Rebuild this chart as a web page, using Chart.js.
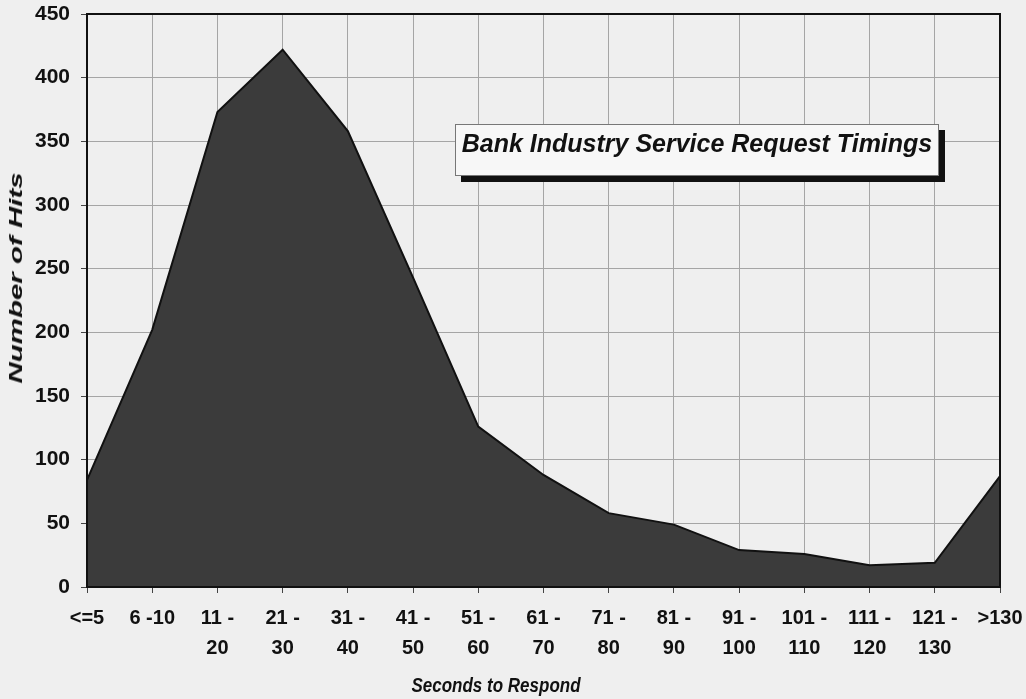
<!DOCTYPE html>
<html>
<head>
<meta charset="utf-8">
<script src="https://cdn.jsdelivr.net/npm/chart.js@4"></script>
<style>
    html, body { margin: 0; padding: 0; background: #efefef; }
    #wrap { position: relative; width: 1026px; height: 699px; }
    #titleBox {
        position: absolute; left: 455px; top: 124px; width: 482px; height: 50px;
        background: #f7f7f7; border: 1px solid #777;
        box-shadow: 6px 6px 0 #111;
        font: italic bold 25px "Liberation Sans", Arial, sans-serif;
        color: #111; line-height: 36px; text-align: center;
        white-space: nowrap;
    }
    .axisTitle {
        position: absolute; white-space: nowrap; color: #111;
        font: italic bold 17px "Liberation Sans", Arial, sans-serif;
    }
    #yTitle { left: 16px; top: 278px; font-size: 19px; transform: translate(-50%, -50%) rotate(-90deg) scaleX(1.55); }
    #xTitle { left: 496px; top: 686px; transform: translate(-50%, -50%) scaleY(1.2); }
</style>
</head>
<body>
<div id="wrap">
    <canvas id="hitsChart" width="1026" height="699"></canvas>
    <div id="titleBox">Bank Industry Service Request Timings</div>
    <div id="yTitle" class="axisTitle">Number of Hits</div>
    <div id="xTitle" class="axisTitle">Seconds to Respond</div>
</div>
<script>
const categories = [['<=5'], ['6 -10'], ['11 -', '20'], ['21 -', '30'], ['31 -', '40'], ['41 -', '50'],
    ['51 -', '60'], ['61 -', '70'], ['71 -', '80'], ['81 -', '90'], ['91 -', '100'], ['101 -', '110'],
    ['111 -', '120'], ['121 -', '130'], ['>130']]
const hits = [84, 202, 373, 422, 358, 243, 126, 88, 58, 49, 29, 26, 17, 19, 87]
const yTicks = [0, 50, 100, 150, 200, 250, 300, 350, 400, 450]

const fontFamily = '"Liberation Sans", Arial, sans-serif'
const hitsChart = document.getElementById('hitsChart')

new Chart(hitsChart, {
    type: 'line',
    data: {
        labels: categories,
        datasets: [{
            label: 'Number of Hits',
            data: hits,
            fill: 'origin',
            backgroundColor: '#3b3b3b',
            borderColor: '#111',
            borderWidth: 2,
            pointRadius: 0,
            tension: 0
        }]
    },
    options: {
        responsive: false,
        animation: false,
        layout: { padding: { top: 14, right: 26, left: 0, bottom: 0 } },
        plugins: { legend: { display: false }, tooltip: { enabled: false } },
        scales: {
            x: {
                offset: false,
                border: { color: '#111', width: 2 },
                grid: { color: '#a5a5a5', lineWidth: 1, tickLength: 6, tickColor: '#444' },
                ticks: {
                    color: '#111', maxRotation: 0, autoSkip: false, padding: 10,
                    font: { family: fontFamily, size: 20, weight: 'bold', lineHeight: 1.5 }
                },
                afterFit: (scale) => {
                    scale.height = 112
                    scale.paddingLeft = 0
                    scale.paddingRight = 0
                }
            },
            y: {
                min: 0,
                max: 450,
                border: { color: '#111', width: 2 },
                grid: { color: '#a5a5a5', lineWidth: 1, tickLength: 6, tickColor: '#444' },
                afterBuildTicks: (scale) => { scale.ticks = yTicks.map(v => ({ value: v })) },
                ticks: {
                    color: '#111', padding: 11,
                    font: { family: fontFamily, size: 21, weight: 'bold' }
                },
                afterFit: (scale) => {
                    scale.width = 87
                    scale.paddingTop = 0
                    scale.paddingBottom = 0
                }
            }
        }
    },
    plugins: [{
        id: 'frame',
        afterDraw: (chart) => {
            const { ctx, chartArea: a } = chart
            ctx.save()
            ctx.strokeStyle = '#111'
            ctx.lineWidth = 2
            ctx.strokeRect(a.left, a.top, a.right - a.left, a.bottom - a.top)
            ctx.restore()
        }
    }]
});
</script>
</body>
</html>
